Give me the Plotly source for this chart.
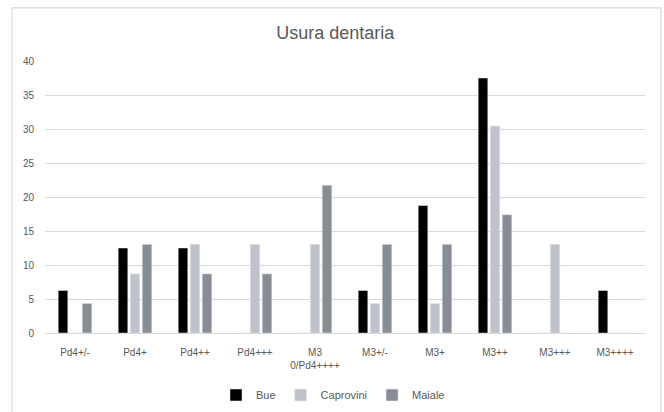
import plotly.graph_objects as go

categories = ["Pd4+/-", "Pd4+", "Pd4++", "Pd4+++", "M3<br>0/Pd4++++", "M3+/-", "M3+", "M3++", "M3+++", "M3++++"]
bue = [6.25, 12.5, 12.5, 0, 0, 6.25, 18.75, 37.5, 0, 6.25]
caprovini = [0, 8.7, 13.04, 13.04, 13.04, 4.35, 4.35, 30.43, 13.04, 0]
maiale = [4.35, 13.04, 8.7, 8.7, 21.74, 13.04, 13.04, 17.39, 0, 0]

font_family = "Liberation Sans, Arial"

fig = go.Figure()
fig.add_bar(name="Bue", x=categories, y=bue, marker_color="#000000")
fig.add_bar(name="Caprovini", x=categories, y=caprovini, marker_color="#BFC3C9")
fig.add_bar(name="Maiale", x=categories, y=maiale, marker_color="#888D93")

fig.update_layout(
    width=664, height=412,
    margin=dict(l=45, r=19, t=61, b=79, autoexpand=False),
    paper_bgcolor="white", plot_bgcolor="white",
    barmode="group", bargap=0.4, bargroupgap=0.2,
    font=dict(family=font_family, color="#595959", size=10),
    title=dict(text="Usura dentaria", x=0.505, xanchor="center", y=1 - 33 / 412, yanchor="middle",
               font=dict(size=18, color="#595959", family=font_family)),
    showlegend=True,
    legend=dict(orientation="h", x=0.48, xanchor="center", yref="container", y=1 - 395 / 412, yanchor="middle",
                font=dict(size=11, color="#595959"), traceorder="normal"),
    xaxis=dict(showline=True, linecolor="#D9D9D9", linewidth=1, ticks="", automargin=False,
               tickfont=dict(size=10, color="#595959"), ticklabelstandoff=10),
    yaxis=dict(range=[0, 40], dtick=5, showgrid=True, gridcolor="#D9D9D9", gridwidth=1, automargin=False,
               zeroline=False, showline=False, ticks="", tickfont=dict(size=10, color="#595959"), ticklabelstandoff=10),
    shapes=[dict(type="rect", xref="paper", yref="paper", x0=-0.055, x1=1.0267, y0=-0.4, y1=1.195,
                 line=dict(color="#D9D9D9", width=1.2), fillcolor="rgba(0,0,0,0)", layer="below")],
)

fig.write_html("out.html", config={"displayModeBar": False},
               post_script="document.body.style.margin='0';")
